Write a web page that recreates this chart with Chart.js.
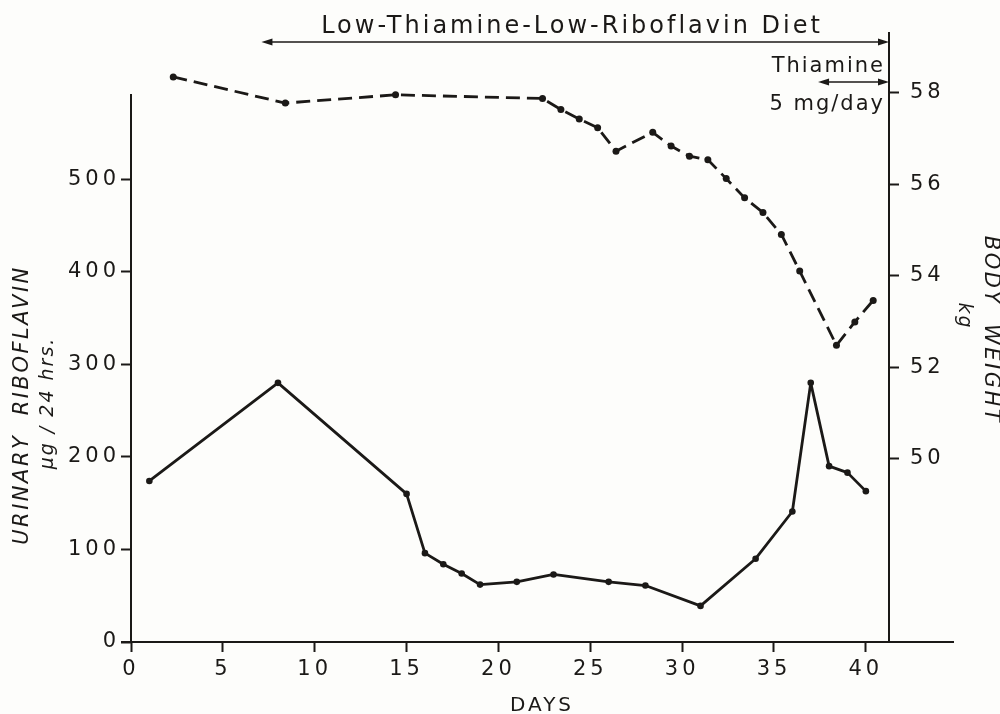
<!DOCTYPE html>
<html>
<head>
<meta charset="utf-8">
<script src="https://cdn.jsdelivr.net/npm/chart.js@4.4.1/dist/chart.umd.min.js"></script>
<style>
  html, body { margin: 0; padding: 0; background: #fdfdfb; }
</style>
</head>
<body>
<canvas id="ribChart" width="1000" height="714"></canvas>
<script>
// urinary riboflavin, µg / 24 hrs
const ribDays = [1, 8, 15, 16, 17, 18, 19, 21, 23, 26, 28, 31, 34, 36, 37, 38, 39, 40];
const riboflavin = [174, 280, 160, 96, 84, 74, 62, 65, 73, 65, 61, 39, 90, 141, 280, 190, 183, 163];

// body weight, kg
const weightDays = [2.3, 8.4, 14.4, 22.4, 23.4, 24.4, 25.4, 26.4, 28.4, 29.4, 30.4, 31.4,
                    32.4, 33.4, 34.4, 35.4, 36.4, 38.4, 39.4, 40.4];
const bodyWeight = [58.34, 57.77, 57.95, 57.87, 57.63, 57.42, 57.23, 56.72, 57.13, 56.83, 56.61, 56.53,
                    56.12, 55.70, 55.38, 54.90, 54.10, 52.48, 52.99, 53.46];

const dayTicks = [0, 5, 10, 15, 20, 25, 30, 35, 40];
const ribTicks = [0, 100, 200, 300, 400, 500];
const weightTicks = [50, 52, 54, 56, 58];

// treatment periods (days)
const dietPeriod = [7.1, 41.26];
const thiaminePeriod = [37.4, 41.26];

const ink = '#1b1917';
const face = '"DejaVu Sans", sans-serif';

function arrowHead(ctx, x, y, dir) {
  ctx.beginPath();
  ctx.moveTo(x, y);
  ctx.lineTo(x - dir * 11, y - 3.5);
  ctx.lineTo(x - dir * 11, y + 3.5);
  ctx.closePath();
  ctx.fill();
}

function spanArrow(ctx, x0, x1, y) {
  ctx.beginPath();
  ctx.moveTo(x0 + 4, y);
  ctx.lineTo(x1 - 4, y);
  ctx.stroke();
  arrowHead(ctx, x0, y, -1);
  arrowHead(ctx, x1, y, 1);
}

function rotatedText(ctx, text, x, y, angle) {
  ctx.save();
  ctx.translate(x, y);
  ctx.rotate(angle);
  ctx.fillText(text, 0, 0);
  ctx.restore();
}

// wider spacing for the tick numbers
const spacing = {
  id: 'spacing',
  beforeDraw(chart) { chart.ctx.letterSpacing = '4px'; },
  afterDraw(chart) { chart.ctx.letterSpacing = '0px'; }
};

const decorations = {
  id: 'decorations',
  afterDraw(chart) {
    const ctx = chart.ctx;
    const x = chart.scales.x, y = chart.scales.y;
    const area = chart.chartArea;
    ctx.save();
    ctx.strokeStyle = ink;
    ctx.fillStyle = ink;
    ctx.lineWidth = 2;

    // axis lines
    ctx.beginPath();
    ctx.moveTo(area.left - 10, area.bottom);
    ctx.lineTo(954, area.bottom);
    ctx.moveTo(area.left, area.bottom);
    ctx.lineTo(area.left, y.getPixelForValue(592));
    ctx.stroke();

    ctx.textBaseline = 'middle';

    // diet period
    ctx.textAlign = 'center';
    ctx.letterSpacing = '3px';
    ctx.font = '24px ' + face;
    ctx.fillText('Low-Thiamine-Low-Riboflavin Diet', 572, 27);
    ctx.lineWidth = 1.6;
    spanArrow(ctx, x.getPixelForValue(dietPeriod[0]), x.getPixelForValue(dietPeriod[1]), 42);

    // thiamine supplement
    ctx.textAlign = 'right';
    ctx.letterSpacing = '2px';
    ctx.font = '21px ' + face;
    ctx.fillText('Thiamine', 885, 67);
    ctx.fillText('5 mg/day', 885, 105);
    spanArrow(ctx, x.getPixelForValue(thiaminePeriod[0]), x.getPixelForValue(thiaminePeriod[1]), 82);

    // axis titles
    ctx.textAlign = 'center';
    ctx.letterSpacing = '3px';
    ctx.font = '20px ' + face;
    ctx.fillText('DAYS', 542, 706);

    ctx.letterSpacing = '2.5px';
    ctx.font = 'italic 21px ' + face;
    rotatedText(ctx, 'URINARY  RIBOFLAVIN', 23, 405, -Math.PI / 2);
    ctx.letterSpacing = '2px';
    ctx.font = 'italic 19px ' + face;
    rotatedText(ctx, 'µg / 24 hrs.', 48, 403, -Math.PI / 2);

    ctx.letterSpacing = '2.5px';
    ctx.font = 'italic 21px ' + face;
    rotatedText(ctx, 'BODY  WEIGHT', 990, 330, Math.PI / 2);
    ctx.letterSpacing = '2px';
    ctx.font = 'italic 19px ' + face;
    rotatedText(ctx, 'kg', 964, 316, Math.PI / 2);

    ctx.restore();
  }
};

function fixedTicks(values) {
  return scale => { scale.ticks = values.map(v => ({ value: v })); };
}

const tickGrid = {
  drawOnChartArea: false,
  drawTicks: true,
  tickLength: 10,
  tickWidth: 2,
  tickColor: ink,
  color: ink
};

const tickFont = { family: face, size: 21 };

new Chart(document.getElementById('ribChart'), {
  type: 'line',
  data: {
    datasets: [{
      label: 'Urinary riboflavin',
      data: ribDays.map((d, i) => ({ x: d, y: riboflavin[i] })),
      yAxisID: 'y',
      borderColor: ink,
      borderWidth: 2.8,
      borderJoinStyle: 'round',
      pointRadius: 3.3,
      pointBorderWidth: 0,
      pointBackgroundColor: ink,
      tension: 0
    }, {
      label: 'Body weight',
      data: weightDays.map((d, i) => ({ x: d, y: bodyWeight[i] })),
      yAxisID: 'y1',
      borderColor: ink,
      borderWidth: 2.8,
      borderDash: [14, 7],
      borderJoinStyle: 'round',
      pointRadius: 3.5,
      pointBorderWidth: 0,
      pointBackgroundColor: ink,
      tension: 0
    }]
  },
  options: {
    responsive: false,
    animation: false,
    layout: { padding: { top: 33, left: 0, right: 0, bottom: 0 } },
    plugins: {
      legend: { display: false },
      tooltip: { enabled: false }
    },
    scales: {
      x: {
        type: 'linear',
        position: 'bottom',
        min: 0,
        max: dietPeriod[1],
        afterBuildTicks: fixedTicks(dayTicks),
        afterFit: s => { s.height = 72; },
        grid: tickGrid,
        border: { display: false },
        ticks: { color: ink, font: tickFont, padding: 5, maxRotation: 0, autoSkip: false }
      },
      y: {
        position: 'left',
        min: 0,
        max: 658,
        afterBuildTicks: fixedTicks(ribTicks),
        afterFit: s => { s.width = 131; },
        grid: tickGrid,
        border: { display: false },
        ticks: { color: ink, font: tickFont, padding: 1 }
      },
      y1: {
        position: 'right',
        min: 46,
        max: 59.3,
        afterBuildTicks: fixedTicks(weightTicks),
        afterFit: s => { s.width = 111; },
        grid: tickGrid,
        border: { display: true, color: ink, width: 2 },
        ticks: { color: ink, font: tickFont, padding: 11 }
      }
    }
  },
  plugins: [spacing, decorations]
});
</script>
</body>
</html>
